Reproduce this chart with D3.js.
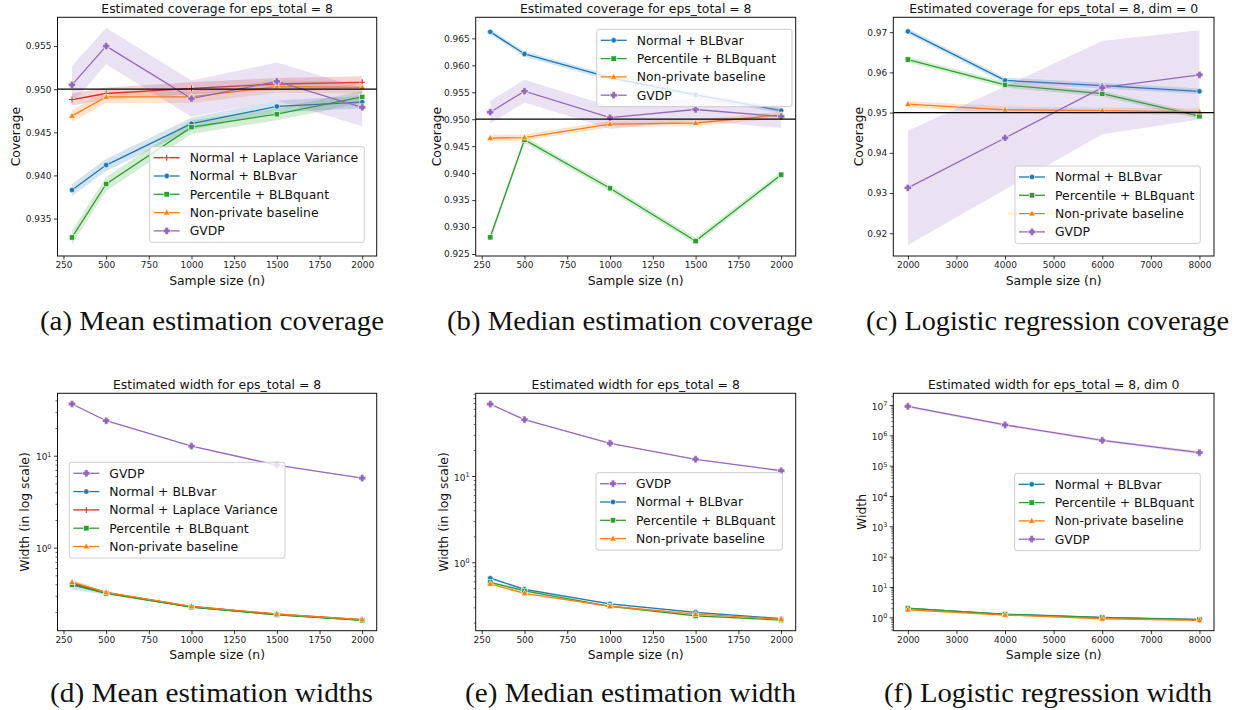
<!DOCTYPE html>
<html><head><meta charset="utf-8">
<script src="https://cdn.jsdelivr.net/npm/d3@7"></script>
<style>body{margin:0;background:#fff}svg{display:block}</style>
</head><body><svg id="chart" width="1237" height="710"></svg>
<script>
// ---------------- DATA ----------------
const xN = [300, 500, 1000, 1500, 2000];
const xL = [2000, 4000, 6000, 8000];
const xTicksN = [250, 500, 750, 1000, 1250, 1500, 1750, 2000];
const xTicksL = [2000, 3000, 4000, 5000, 6000, 7000, 8000];
const yTicksA = [0.935, 0.940, 0.945, 0.950, 0.955];
const yTicksB = [0.925, 0.930, 0.935, 0.940, 0.945, 0.950, 0.955, 0.960, 0.965];
const yTicksC = [0.92, 0.93, 0.94, 0.95, 0.96, 0.97];
const yTicksDE = [1, 10];
const yTicksF = [1, 10, 100, 1000, 1e4, 1e5, 1e6, 1e7];

const seriesNames = {
  lap: "Normal + Laplace Variance",
  blb: "Normal + BLBvar",
  pct: "Percentile + BLBquant",
  np: "Non-private baseline",
  gv: "GVDP"
};
const seriesColors = { lap: "#d62728", blb: "#1f77b4", pct: "#2ca02c", np: "#ff7f0e", gv: "#9467bd" };

const titles = [
  "Estimated coverage for eps_total = 8",
  "Estimated coverage for eps_total = 8",
  "Estimated coverage for eps_total = 8, dim = 0",
  "Estimated width for eps_total = 8",
  "Estimated width for eps_total = 8",
  "Estimated width for eps_total = 8, dim 0"
];
const captions = [
  "(a) Mean estimation coverage",
  "(b) Median estimation coverage",
  "(c) Logistic regression coverage",
  "(d) Mean estimation widths",
  "(e) Median estimation width",
  "(f) Logistic regression width"
];

// (a) mean coverage
const covA_lap = [0.9488, 0.9495, 0.9501, 0.9506, 0.9508];
const covA_blb = [0.9383, 0.9412, 0.9460, 0.9480, 0.9485];
const covA_pct = [0.9328, 0.9390, 0.9456, 0.9471, 0.9491];
const covA_np  = [0.9469, 0.9491, 0.9491, 0.9503, 0.9502];
const covA_gv  = [0.9505, 0.9550, 0.9489, 0.9509, 0.9479];
const ciA_lap = [0.0007, 0.0007, 0.0007, 0.0007, 0.0007];
const ciA_blb = [0.0007, 0.0007, 0.0007, 0.0007, 0.0007];
const ciA_pct = [0.0008, 0.0008, 0.0008, 0.0007, 0.0007];
const ciA_np  = [0.0007, 0.0007, 0.0007, 0.0007, 0.0007];
const ciA_gv  = [0.0022, 0.0021, 0.0021, 0.0022, 0.0022];

// (b) median coverage
const covB_blb = [0.9662, 0.9621, 0.9577, 0.9545, 0.9516];
const covB_pct = [0.9281, 0.9462, 0.9372, 0.9274, 0.9397];
const covB_np  = [0.9465, 0.9466, 0.9491, 0.9493, 0.9508];
const covB_gv  = [0.9513, 0.9552, 0.9503, 0.9518, 0.9505];
const ciB_blb = [0.0005, 0.0005, 0.0005, 0.0005, 0.0005];
const ciB_pct = [0.0006, 0.0006, 0.0006, 0.0006, 0.0006];
const ciB_np  = [0.0006, 0.0006, 0.0006, 0.0006, 0.0006];
const ciB_gv  = [0.0021, 0.0021, 0.0021, 0.0021, 0.0021];

// (c) logistic coverage
const covC_blb = [0.9702, 0.9580, 0.9567, 0.9553];
const covC_pct = [0.9632, 0.9569, 0.9547, 0.9491];
const covC_np  = [0.9521, 0.9507, 0.9505, 0.9502];
const covC_gv  = [0.9313, 0.9437, 0.9562, 0.9594];
const ciC_blb = [0.0007, 0.0007, 0.0007, 0.0007];
const ciC_pct = [0.0007, 0.0007, 0.0007, 0.0007];
const ciC_np  = [0.0008, 0.0008, 0.0008, 0.0008];
const ciC_gv  = [0.0142, 0.0128, 0.0116, 0.0111];

// (d) mean widths (relative CI)
const widD_gv  = [36.5, 24.0, 12.7, 7.9, 5.7];
const widD_blb = [0.400, 0.320, 0.226, 0.187, 0.163];
const widD_lap = [0.415, 0.325, 0.229, 0.189, 0.165];
const widD_pct = [0.394, 0.318, 0.225, 0.186, 0.162];
const widD_np  = [0.421, 0.327, 0.230, 0.190, 0.165];
const rciD_gv  = [0.01, 0.01, 0.01, 0.01, 0.01];
const rciD_blb = [0.13, 0.04, 0.02, 0.02, 0.02];
const rciD_lap = [0.02, 0.02, 0.01, 0.01, 0.01];
const rciD_pct = [0.02, 0.02, 0.01, 0.01, 0.01];
const rciD_np  = [0.02, 0.02, 0.01, 0.01, 0.01];

// (e) median widths
const widE_gv  = [68.0, 44.9, 23.9, 15.6, 11.5];
const widE_blb = [0.653, 0.486, 0.329, 0.263, 0.222];
const widE_pct = [0.586, 0.465, 0.309, 0.239, 0.214];
const widE_np  = [0.561, 0.437, 0.309, 0.250, 0.219];
const rciE_gv  = [0.01, 0.01, 0.01, 0.01, 0.01];
const rciE_blb = [0.03, 0.03, 0.02, 0.02, 0.02];
const rciE_pct = [0.02, 0.02, 0.02, 0.02, 0.02];
const rciE_np  = [0.02, 0.02, 0.02, 0.02, 0.02];

// (f) logistic widths
const widF_blb = [1.98, 1.28, 1.00, 0.86];
const widF_pct = [2.02, 1.26, 0.98, 0.84];
const widF_np  = [1.78, 1.19, 0.90, 0.80];
const widF_gv  = [9.0e6, 2.2e6, 6.8e5, 2.7e5];
const rciF_blb = [0.03, 0.03, 0.03, 0.03];
const rciF_pct = [0.03, 0.03, 0.03, 0.03];
const rciF_np  = [0.03, 0.03, 0.03, 0.03];
const rciF_gv  = [0.10, 0.10, 0.10, 0.12];

// ---------------- LAYOUT ----------------
const FONT = "DejaVu Sans, sans-serif";
const colX = [[57.5, 376.7], [475.7, 795.7], [893.3, 1214]];
const rowY = [[17.3, 256], [393.3, 630.7]];

function ser(id, xs, v, ci, rel) { return { id, xs, v, ci, rel: !!rel }; }

const panels = [
  { col: 0, row: 0, xDom: [215, 2085], xTicks: xTicksN, log: false, yDom: [0.93065, 0.95834], yTicks: yTicksA, yFmt: ".3f",
    ylab: "Coverage", ylabX: 16, ref: 0.95, leg: [149.7, 146.7, 214.6],
    series: [ser("lap", xN, covA_lap, ciA_lap), ser("blb", xN, covA_blb, ciA_blb), ser("pct", xN, covA_pct, ciA_pct), ser("np", xN, covA_np, ciA_np), ser("gv", xN, covA_gv, ciA_gv)],
    cap: [40, 384] },
  { col: 1, row: 0, xDom: [215, 2085], xTicks: xTicksN, log: false, yDom: [0.92463, 0.9689], yTicks: yTicksB, yFmt: ".3f",
    ylab: "Coverage", ylabX: 436.7, ref: 0.95, leg: [596.7, 29.3, 195.3],
    series: [ser("blb", xN, covB_blb, ciB_blb), ser("pct", xN, covB_pct, ciB_pct), ser("np", xN, covB_np, ciB_np), ser("gv", xN, covB_gv, ciB_gv)],
    cap: [447, 813] },
  { col: 2, row: 0, xDom: [1700, 8300], xTicks: xTicksL, log: false, yDom: [0.91435, 0.9737], yTicks: yTicksC, yFmt: ".2f",
    ylab: "Coverage", ylabX: 859, ref: 0.95, leg: [1015, 166, 185.3],
    series: [ser("blb", xL, covC_blb, ciC_blb), ser("pct", xL, covC_pct, ciC_pct), ser("np", xL, covC_np, ciC_np), ser("gv", xL, covC_gv, ciC_gv)],
    cap: [866, 1229] },
  { col: 0, row: 1, xDom: [215, 2085], xTicks: xTicksN, log: true, yDom: [0.125, 47.7], yTicks: yTicksDE,
    ylab: "Width (in log scale)", ylabX: 25, ref: null, leg: [69.3, 462.3, 215.7],
    series: [ser("gv", xN, widD_gv, rciD_gv, 1), ser("blb", xN, widD_blb, rciD_blb, 1), ser("lap", xN, widD_lap, rciD_lap, 1), ser("pct", xN, widD_pct, rciD_pct, 1), ser("np", xN, widD_np, rciD_np, 1)],
    cap: [50, 373] },
  { col: 1, row: 1, xDom: [215, 2085], xTicks: xTicksN, log: true, yDom: [0.161, 90.8], yTicks: yTicksDE,
    ylab: "Width (in log scale)", ylabX: 443.3, ref: null, leg: [596, 472.7, 186.3],
    series: [ser("gv", xN, widE_gv, rciE_gv, 1), ser("blb", xN, widE_blb, rciE_blb, 1), ser("pct", xN, widE_pct, rciE_pct, 1), ser("np", xN, widE_np, rciE_np, 1)],
    cap: [465, 796] },
  { col: 2, row: 1, xDom: [1700, 8300], xTicks: xTicksL, log: true, yDom: [0.363, 2.43e7], yTicks: yTicksF,
    ylab: "Width", ylabX: 861.7, ref: null, leg: [1014.7, 473.3, 185.6],
    series: [ser("blb", xL, widF_blb, rciF_blb, 1), ser("pct", xL, widF_pct, rciF_pct, 1), ser("np", xL, widF_np, rciF_np, 1), ser("gv", xL, widF_gv, rciF_gv, 1)],
    cap: [884, 1212] }
];

const svg = d3.select("#chart");
svg.append("rect").attr("width", 1237).attr("height", 710).attr("fill", "#fff");

function fatPlus(cx, cy, a, b) {
  return `M${cx - a},${cy - b}H${cx + a}V${cy - a}H${cx + b}V${cy + a}H${cx + a}V${cy + b}H${cx - a}V${cy + a}H${cx - b}V${cy - a}H${cx - a}Z`;
}

function drawMarker(g, id, cx, cy) {
  const c = seriesColors[id];
  if (id === "blb") {
    g.append("circle").attr("cx", cx).attr("cy", cy).attr("r", 2.7).attr("fill", c).attr("stroke", "#fff").attr("stroke-width", 0.6);
  } else if (id === "pct") {
    g.append("rect").attr("x", cx - 2.7).attr("y", cy - 2.7).attr("width", 5.4).attr("height", 5.4).attr("fill", c).attr("stroke", "#fff").attr("stroke-width", 0.6);
  } else if (id === "np") {
    g.append("path").attr("d", d3.symbol(d3.symbolTriangle, 20)()).attr("transform", `translate(${cx},${cy + 0.4})`).attr("fill", c).attr("stroke", "#fff").attr("stroke-width", 0.6);
  } else if (id === "gv") {
    g.append("path").attr("d", fatPlus(cx, cy, 1.7, 3.6)).attr("fill", c).attr("stroke", "#fff").attr("stroke-width", 0.6).attr("stroke-linejoin", "round");
  } else if (id === "lap") {
    g.append("path").attr("d", `M${cx - 3},${cy}H${cx + 3}M${cx},${cy - 3}V${cy + 3}`).attr("stroke", "#fff").attr("stroke-width", 2.2);
    g.append("path").attr("d", `M${cx - 3},${cy}H${cx + 3}M${cx},${cy - 3}V${cy + 3}`).attr("stroke", c).attr("stroke-width", 1.1);
  }
}

function drawPanel(p, i) {
  const [x0, x1] = colX[p.col];
  const [y0, y1] = rowY[p.row];
  const x = d3.scaleLinear().domain(p.xDom).range([x0, x1]);
  const y = (p.log ? d3.scaleLog() : d3.scaleLinear()).domain(p.yDom).range([y1, y0]);
  const g = svg.append("g");
  const clipId = "clip" + i;
  svg.append("defs").append("clipPath").attr("id", clipId).append("rect")
    .attr("x", x0).attr("y", y0).attr("width", x1 - x0).attr("height", y1 - y0);
  const plot = g.append("g").attr("clip-path", `url(#${clipId})`);

  p.series.forEach(s => {
    const pts = s.xs.map((xv, k) => ({
      x: xv, v: s.v[k],
      lo: s.rel ? s.v[k] * (1 - s.ci[k]) : s.v[k] - s.ci[k],
      hi: s.rel ? s.v[k] * (1 + s.ci[k]) : s.v[k] + s.ci[k]
    }));
    plot.append("path").datum(pts)
      .attr("d", d3.area().x(d => x(d.x)).y0(d => y(d.lo)).y1(d => y(d.hi)))
      .attr("fill", seriesColors[s.id]).attr("fill-opacity", 0.2).attr("stroke", "none");
    plot.append("path").datum(pts)
      .attr("d", d3.line().x(d => x(d.x)).y(d => y(d.v)))
      .attr("fill", "none").attr("stroke", seriesColors[s.id]).attr("stroke-width", 1.3);
    const mg = g.append("g");
    pts.forEach(d => drawMarker(mg, s.id, x(d.x), y(d.v)));
  });

  if (p.ref !== null) {
    g.append("line").attr("x1", x0).attr("x2", x1).attr("y1", y(p.ref)).attr("y2", y(p.ref))
      .attr("stroke", "#000").attr("stroke-width", 1.3);
  }

  const xa = g.append("g").attr("transform", `translate(0,${y1})`)
    .call(d3.axisBottom(x).tickValues(p.xTicks).tickFormat(d3.format("d")).tickSize(3.5).tickPadding(2.5));
  xa.select(".domain").remove();
  xa.selectAll("line").attr("stroke", "#000").attr("stroke-width", 0.8);
  xa.selectAll("text").attr("font-family", FONT).attr("font-size", "9px").attr("fill", "#222");

  if (!p.log) {
    const ya = g.append("g").attr("transform", `translate(${x0},0)`)
      .call(d3.axisLeft(y).tickValues(p.yTicks).tickFormat(d3.format(p.yFmt)).tickSize(3.5).tickPadding(2.5));
    ya.select(".domain").remove();
    ya.selectAll("line").attr("stroke", "#000").attr("stroke-width", 0.8);
    ya.selectAll("text").attr("font-family", FONT).attr("font-size", "9px").attr("fill", "#222");
  } else {
    const lo = Math.floor(Math.log10(p.yDom[0])), hi = Math.ceil(Math.log10(p.yDom[1]));
    const minors = [];
    for (let k = lo; k <= hi; k++) for (let m = 2; m <= 9; m++) {
      const v = m * Math.pow(10, k);
      if (v >= p.yDom[0] && v <= p.yDom[1]) minors.push(v);
    }
    const ym = g.append("g").attr("transform", `translate(${x0},0)`)
      .call(d3.axisLeft(y).tickValues(minors).tickFormat("").tickSize(2));
    ym.select(".domain").remove();
    ym.selectAll("line").attr("stroke", "#000").attr("stroke-width", 0.6);
    const ya = g.append("g").attr("transform", `translate(${x0},0)`)
      .call(d3.axisLeft(y).tickValues(p.yTicks).tickFormat("").tickSize(3.5).tickPadding(2.5));
    ya.select(".domain").remove();
    ya.selectAll("line").attr("stroke", "#000").attr("stroke-width", 0.8);
    ya.selectAll("text").each(function (d) {
      const t = d3.select(this);
      t.attr("font-family", FONT).attr("font-size", "9px").attr("fill", "#222").attr("dy", "0.45em");
      t.append("tspan").text("10");
      t.append("tspan").attr("dy", "-0.55em").attr("font-size", "6.5px").text(Math.round(Math.log10(d)));
    });
  }

  g.append("rect").attr("x", x0).attr("y", y0).attr("width", x1 - x0).attr("height", y1 - y0)
    .attr("fill", "none").attr("stroke", "#111").attr("stroke-width", 1);

  g.append("text").attr("x", (x0 + x1) / 2).attr("y", y0 - 4.5).attr("text-anchor", "middle")
    .attr("font-family", FONT).attr("font-size", "12.4px").attr("fill", "#111").text(titles[i]);
  g.append("text").attr("x", (x0 + x1) / 2).attr("y", y1 + 28.5).attr("text-anchor", "middle")
    .attr("font-family", FONT).attr("font-size", "12.4px").attr("fill", "#111").text("Sample size (n)");
  g.append("text").attr("transform", `translate(${p.ylabX},${(y0 + y1) / 2}) rotate(-90)`).attr("dy", "0.35em")
    .attr("text-anchor", "middle").attr("font-family", FONT).attr("font-size", "12.4px").attr("fill", "#111").text(p.ylab);

  const [lx, ly, lw] = p.leg;
  const n = p.series.length;
  const lg = g.append("g");
  lg.append("rect").attr("x", lx).attr("y", ly).attr("width", lw).attr("height", n * 18.3 + 4.2)
    .attr("rx", 2.5).attr("fill", "#fff").attr("fill-opacity", 0.8).attr("stroke", "#cccccc").attr("stroke-width", 1);
  p.series.forEach((s, k) => {
    const ry = ly + 11 + k * 18.3;
    lg.append("line").attr("x1", lx + 4).attr("x2", lx + 30).attr("y1", ry).attr("y2", ry)
      .attr("stroke", seriesColors[s.id]).attr("stroke-width", 1.3);
    drawMarker(lg, s.id, lx + 17, ry);
    lg.append("text").attr("x", lx + 40).attr("y", ry).attr("dy", "0.36em")
      .attr("font-family", FONT).attr("font-size", "12.4px").attr("fill", "#111").text(seriesNames[s.id]);
  });

  g.append("text").attr("x", p.cap[0]).attr("y", p.row === 0 ? 330 : 702)
    .attr("textLength", p.cap[1] - p.cap[0]).attr("lengthAdjust", "spacingAndGlyphs")
    .attr("font-family", "Liberation Serif, serif").attr("font-size", "28px").attr("fill", "#111").text(captions[i]);
}

panels.forEach(drawPanel);
</script></body></html>
